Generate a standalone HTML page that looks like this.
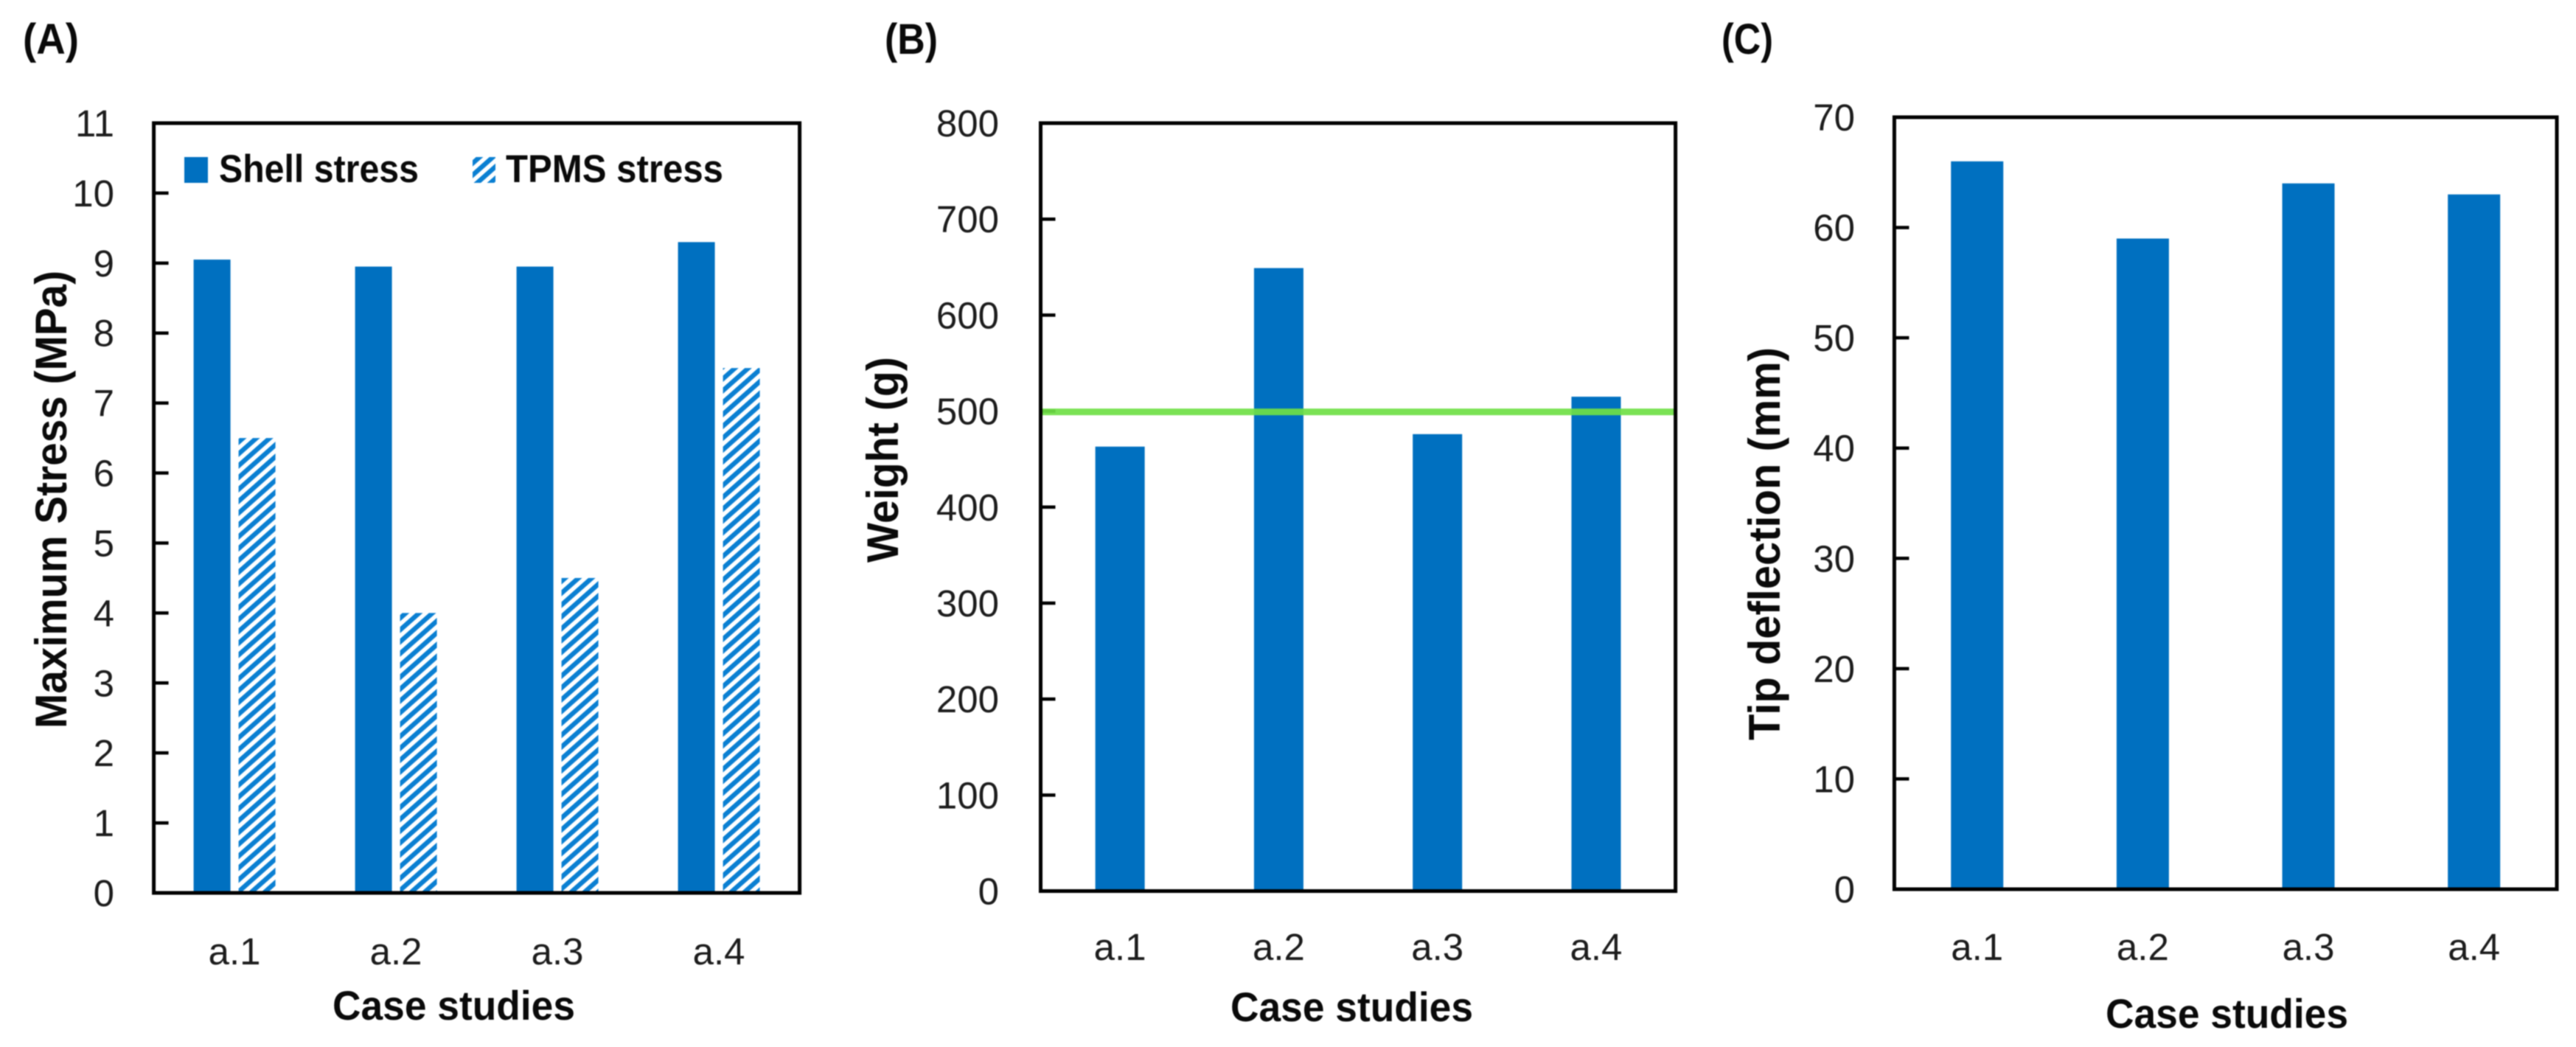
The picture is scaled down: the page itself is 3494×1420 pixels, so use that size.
<!DOCTYPE html>
<html lang="en">
<head>
<meta charset="utf-8">
<title>Case study charts</title>
<style>
  html, body { margin: 0; padding: 0; background: #fff; width: 3494px; height: 1420px; overflow: hidden; }
  svg { display: block; filter: blur(0.8px); font-family: "Liberation Sans", sans-serif; }
  .tick-label { font-size: 51px; fill: #1c1c1c; }
  .bold { font-weight: bold; fill: #0a0a0a; }
</style>
</head>
<body>
<svg id="figure" xmlns="http://www.w3.org/2000/svg" width="3494" height="1420" viewBox="0 0 3494 1420">
  <defs>
    <pattern id="hatch" width="20" height="12" patternUnits="userSpaceOnUse" patternTransform="rotate(-41.6)">
      <rect x="0" y="0" width="20" height="6.4" fill="#0a7fd2"></rect>
    </pattern>
  </defs>
  <rect x="0" y="0" width="3494" height="1420" fill="#ffffff"></rect>

  <g id="panel-a"></g>
  <g id="panel-b"></g>
  <g id="panel-c"></g>

  <text class="bold" x="31" y="73" font-size="58" textLength="76" lengthAdjust="spacingAndGlyphs">(A)</text>
  <text class="bold" x="1200" y="73" font-size="58" textLength="72" lengthAdjust="spacingAndGlyphs">(B)</text>
  <text class="bold" x="2335" y="73" font-size="58" textLength="70" lengthAdjust="spacingAndGlyphs">(C)</text>

  <text class="bold" font-size="60" transform="translate(90 988) rotate(-90)" textLength="621" lengthAdjust="spacingAndGlyphs">Maximum Stress (MPa)</text>
  <text class="bold" font-size="60" transform="translate(1218 763) rotate(-90)" textLength="279" lengthAdjust="spacingAndGlyphs">Weight (g)</text>
  <text class="bold" font-size="60" transform="translate(2414 1004) rotate(-90)" textLength="533" lengthAdjust="spacingAndGlyphs">Tip deflection (mm)</text>

  <text class="bold" x="451" y="1383" font-size="56" textLength="329" lengthAdjust="spacingAndGlyphs">Case studies</text>
  <text class="bold" x="1669" y="1385" font-size="56" textLength="329" lengthAdjust="spacingAndGlyphs">Case studies</text>
  <text class="bold" x="2856" y="1394" font-size="56" textLength="329" lengthAdjust="spacingAndGlyphs">Case studies</text>

  <g>
    <rect x="250" y="213" width="32" height="35" fill="#0070c0"></rect>
    <text class="bold" x="297" y="247" font-size="53" textLength="271" lengthAdjust="spacingAndGlyphs">Shell stress</text>
    <rect x="641" y="213" width="31" height="35" fill="url(#hatch)"></rect>
    <text class="bold" x="686" y="247" font-size="53" textLength="295" lengthAdjust="spacingAndGlyphs">TPMS stress</text>
  </g>
</svg>

<script>
const categories = ['a.1', 'a.2', 'a.3', 'a.4'];
const shellStress = [9.05, 8.95, 8.95, 9.3];
const tpmsStress = [6.5, 4.0, 4.5, 7.5];
const weightValues = [463, 649, 476, 515];
const weightLimit = [500];
const tipDeflection = [66, 59, 64, 63];
const stressTicks = [0, 1, 2, 3, 4, 5, 6, 7, 8, 9, 10, 11];
const weightTicks = [0, 100, 200, 300, 400, 500, 600, 700, 800];
const deflectionTicks = [0, 10, 20, 30, 40, 50, 60, 70];

const SVG_NS = 'http://www.w3.org/2000/svg';

function makeEl(parent, tag, props) {
  const el = document.createElementNS(SVG_NS, tag);
  for (const key in props) el.setAttribute(key, props[key]);
  parent.appendChild(el);
  return el;
}

function xBand(frame, count) {
  const band = (frame.right - frame.left) / count;
  return function (i) { return frame.left + band * (i + 0.5); };
}

function yLinear(frame, ticks) {
  const max = ticks[ticks.length - 1];
  return function (v) { return frame.bottom - (v / max) * (frame.bottom - frame.top); };
}

function drawAxes(group, prefix, frame, ticks, labelRight, labelBaseline) {
  const y = yLinear(frame, ticks);
  const x = xBand(frame, categories.length);
  ticks.forEach(function (t, i) {
    if (i > 0 && i < ticks.length - 1) {
      const tick = makeEl(group, 'line', { x1: frame.left, x2: frame.left + 20, y1: y(t), y2: y(t), stroke: '#000', 'stroke-width': 4.5 });
      
      
    }
    const label = makeEl(group, 'text', { x: labelRight, y: y(t) + 18, 'text-anchor': 'end', class: 'tick-label' });
    label.textContent = String(t);
    
    
  });
  categories.forEach(function (c, i) {
    const label = makeEl(group, 'text', { x: x(i), y: labelBaseline, 'text-anchor': 'middle', class: 'tick-label' });
    label.textContent = c;
    
    
  });
}

function drawFrame(group, prefix, frame) {
  const box = makeEl(group, 'rect', {
    x: frame.left, y: frame.top,
    width: frame.right - frame.left, height: frame.bottom - frame.top,
    fill: 'none', stroke: '#000', 'stroke-width': 5
  });
  
  
}

function drawBars(group, prefix, frame, ticks, values, width, offset, fill) {
  const x = xBand(frame, values.length);
  const y = yLinear(frame, ticks);
  values.forEach(function (v, i) {
    const bar = makeEl(group, 'rect', {
      x: x(i) + offset - width / 2, y: y(v),
      width: width, height: y(0) - y(v), fill: fill
    });
    
    
  });
}

/* Panel A */
const frameA = { left: 208.6, right: 1084.6, top: 167, bottom: 1211 };
const groupA = document.getElementById('panel-a');
drawAxes(groupA, 'panel-a', frameA, stressTicks, 155, 1308);
drawBars(groupA, 'shell-stress', frameA, stressTicks, shellStress, 50, -30.5, '#0070c0');
drawBars(groupA, 'tpms-stress', frameA, stressTicks, tpmsStress, 50, 30.5, 'url(#hatch)');
drawFrame(groupA, 'panel-a', frameA);

/* Panel B */
const frameB = { left: 1411.5, right: 2272.6, top: 167, bottom: 1208.5 };
const groupB = document.getElementById('panel-b');
drawAxes(groupB, 'panel-b', frameB, weightTicks, 1355, 1302);
drawBars(groupB, 'weight', frameB, weightTicks, weightValues, 67, 0, '#0070c0');
const yWeight = yLinear(frameB, weightTicks);
weightLimit.forEach(function (limit) {
  const line = makeEl(groupB, 'line', {
    x1: frameB.left, x2: frameB.right, y1: yWeight(limit) + 1, y2: yWeight(limit) + 1,
    stroke: '#6fdf45', 'stroke-width': 9, 'stroke-opacity': 0.92
  });
  
  
});
drawFrame(groupB, 'panel-b', frameB);

/* Panel C */
const frameC = { left: 2569.4, right: 3468, top: 159, bottom: 1206 };
const groupC = document.getElementById('panel-c');
drawAxes(groupC, 'panel-c', frameC, deflectionTicks, 2516, 1302);
drawBars(groupC, 'tip-deflection', frameC, deflectionTicks, tipDeflection, 71, 0, '#0070c0');
drawFrame(groupC, 'panel-c', frameC);
</script>
</body>
</html>
